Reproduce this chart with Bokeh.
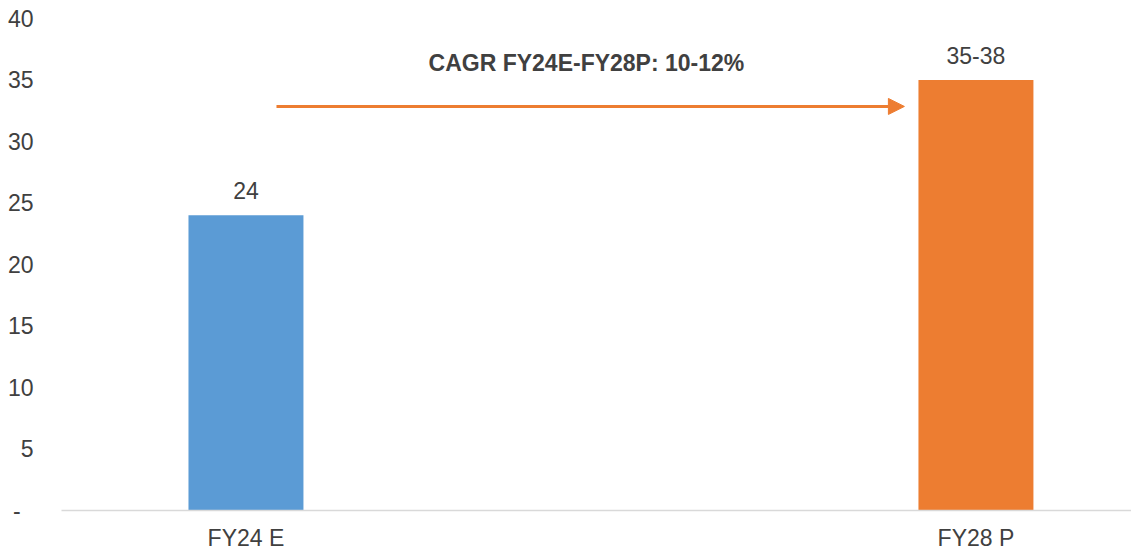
from bokeh.plotting import figure
from bokeh.models import (ColumnDataSource, FixedTicker, Range1d, Arrow, NormalHead, Label)
from bokeh.core.properties import value
from bokeh.embed import file_html
from bokeh.resources import INLINE

# ---- data ----
categories = ["FY24 E", "FY28 P"]
values = [24, 35]
value_labels = ["24", "35-38"]
bar_colors = ["#5B9BD5", "#ED7D31"]
y_ticks = [0, 5, 10, 15, 20, 25, 30, 35, 40]
cagr_text = "CAGR FY24E-FY28P: 10-12%"

FONT = "'Liberation Sans', Arial, sans-serif"
TXT = "#404040"

xs = list(range(len(categories)))
src = ColumnDataSource(dict(x=xs, top=values, lab=value_labels, color=bar_colors))

p = figure(width=1131, height=555, output_backend="svg", toolbar_location=None,
           x_range=Range1d(-0.2527, 1.2131), y_range=Range1d(0, 40),
           min_border_left=61, min_border_right=0, min_border_top=18, min_border_bottom=45)
p.outline_line_color = None
p.xgrid.visible = False
p.ygrid.visible = False
p.background_fill_color = "white"
p.border_fill_color = "white"

p.vbar(x="x", top="top", width=0.1575, color="color", source=src, line_color=None)

p.text(x="x", y="top", text="lab", source=src, text_align="center", text_baseline="middle",
       y_offset=-25, text_font=value(FONT), text_font_size="23px", text_color=TXT)

# y axis
ya = p.yaxis[0]
ya.ticker = FixedTicker(ticks=y_ticks)
ya.major_label_overrides = {0: "-\u00a0\u00a0"}
ya.axis_line_color = None
ya.major_tick_line_color = None
ya.minor_tick_line_color = None
ya.major_tick_out = 0
ya.major_tick_in = 0
ya.major_label_standoff = 28
ya.axis_label_standoff = 0
ya.major_label_text_font = FONT
ya.major_label_text_font_size = "23px"
ya.major_label_text_color = TXT

# x axis
xa = p.xaxis[0]
xa.ticker = FixedTicker(ticks=xs)
xa.major_label_overrides = {i: c for i, c in enumerate(categories)}
xa.axis_line_color = "#D9D9D9"
xa.axis_line_width = 1.5
xa.major_tick_line_color = None
xa.minor_tick_line_color = None
xa.major_tick_out = 0
xa.major_tick_in = 0
xa.major_label_standoff = 14
xa.axis_label_standoff = 0
xa.major_label_text_font = FONT
xa.major_label_text_font_size = "23px"
xa.major_label_text_color = TXT

# CAGR annotation
p.add_layout(Arrow(x_start=0.0418, y_start=32.85, x_end=0.902, y_end=32.85,
                   line_color="#ED7D31", line_width=3,
                   end=NormalHead(size=16, fill_color="#ED7D31", line_color="#ED7D31", line_width=1)))
p.add_layout(Label(x=0.4664, y=36.35, text=cagr_text, text_align="center", text_baseline="middle",
                   text_font=FONT, text_font_size="23px", text_font_style="bold", text_color=TXT))

open("out.html", "w").write(file_html(p, INLINE))
